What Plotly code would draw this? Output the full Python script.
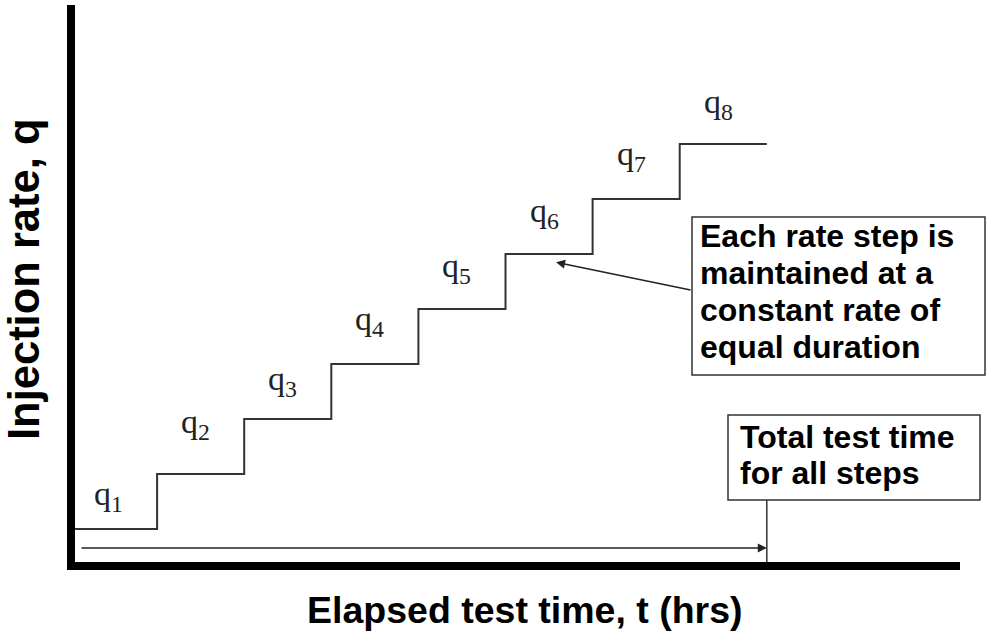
import plotly.graph_objects as go

# ------------------------------------------- Data -------------------------------------------

# step boundaries (equal durations) and the rate held during each step
step_times = [0, 1, 2, 3, 4, 5, 6, 7, 8]
step_rates = [1, 2, 3, 4, 5, 6, 7, 8, 8]
step_labels = ["q<sub>1</sub>", "q<sub>2</sub>", "q<sub>3</sub>", "q<sub>4</sub>",
               "q<sub>5</sub>", "q<sub>6</sub>", "q<sub>7</sub>", "q<sub>8</sub>"]

total_time = 8
arrow_level = 0.655
callout_point = (5.58, 5.85)

callout_lines = ["Each rate step is", "maintained at a", "constant rate of", "equal duration"]
total_lines = ["Total test time", "for all steps"]

x_title = "Elapsed test time, t (hrs)"
y_title = "Injection rate, q"

# ------------------------------------------- Layout helpers -------------------------------------------

# plot area edges in pixels (axis lines are drawn just outside these)
PLOT_LEFT, PLOT_RIGHT, PLOT_TOP, PLOT_BOTTOM = 75, 960, 5, 562

# how far (px) each q label sits above its step, hand placed in the original
label_lift = [10, 27, 15, 20, 18, 18, 20, 17]


def px_x(px):
    """Converts a horizontal pixel position to paper coordinates"""
    return (px - PLOT_LEFT) / (PLOT_RIGHT - PLOT_LEFT)


def px_y(px):
    """Converts a vertical pixel position to paper coordinates"""
    return (PLOT_BOTTOM - px) / (PLOT_BOTTOM - PLOT_TOP)


bold_font = dict(family="Liberation Sans", size=32, color="black", weight="bold")

# ------------------------------------------- Figure -------------------------------------------

fig = go.Figure()

# stepped rate history
fig.add_trace(go.Scatter(x=step_times, y=step_rates, mode="lines", line_shape="hv",
                         line=dict(color="#333333", width=2), hoverinfo="skip", showlegend=False))

# q labels over each step
for i, label in enumerate(step_labels):
    fig.add_annotation(x=step_times[i] + 0.5, y=step_rates[i], text=label, showarrow=False,
                       xanchor="center", yanchor="bottom", xshift=-5, yshift=label_lift[i],
                       font=dict(family="Liberation Serif", size=34, color="#222222"))

# total time arrow along the bottom
fig.add_annotation(x=total_time, y=arrow_level, ax=0.115, ay=arrow_level, axref="x", ayref="y",
                   xref="x", yref="y", text="", showarrow=True, arrowhead=2, arrowsize=1.2,
                   arrowwidth=1.5, arrowcolor="#222222")

# callout arrow pointing at the step
fig.add_annotation(x=callout_point[0], y=callout_point[1], ax=136, ay=28, text="",
                   showarrow=True, arrowhead=2, arrowsize=1.2, arrowwidth=1.5, arrowcolor="#222222")

# callout boxes
fig.add_shape(type="rect", xref="paper", yref="paper", x0=px_x(692), x1=px_x(985),
              y0=px_y(375), y1=px_y(217), line=dict(color="#333333", width=1.5), fillcolor="white")
fig.add_shape(type="rect", xref="paper", yref="paper", x0=px_x(728), x1=px_x(980),
              y0=px_y(500), y1=px_y(415), line=dict(color="#333333", width=1.5), fillcolor="white")

# line from the total time box to the axis
fig.add_shape(type="line", xref="x", yref="paper", x0=total_time, x1=total_time, y0=0, y1=px_y(500),
              line=dict(color="#333333", width=1.5))

# box texts, one line each so the spacing matches
for i, line in enumerate(callout_lines):
    fig.add_annotation(xref="paper", yref="paper", x=px_x(698), y=px_y(236 + 37 * i), text=line,
                       showarrow=False, xanchor="left", yanchor="middle", font=bold_font)
for i, line in enumerate(total_lines):
    fig.add_annotation(xref="paper", yref="paper", x=px_x(738), y=px_y(437 + 36 * i), text=line,
                       showarrow=False, xanchor="left", yanchor="middle", font=bold_font)

# axis titles
fig.add_annotation(xref="paper", yref="paper", x=px_x(525), y=px_y(610), text=x_title, showarrow=False,
                   xanchor="center", yanchor="middle",
                   font=dict(family="Liberation Sans", size=37.5, color="black", weight="bold"))
fig.add_annotation(xref="paper", yref="paper", x=px_x(24), y=px_y(280), text=y_title, showarrow=False,
                   textangle=-90, xanchor="center", yanchor="middle",
                   font=dict(family="Liberation Sans", size=43.5, color="black", weight="bold"))

fig.update_xaxes(range=[0.0574, 10.218], showline=True, linewidth=8, linecolor="black",
                 showgrid=False, zeroline=False, showticklabels=False, ticks="")
fig.update_yaxes(range=[0.4, 10.527], showline=True, linewidth=8, linecolor="black",
                 showgrid=False, zeroline=False, showticklabels=False, ticks="")

fig.update_layout(width=989, height=636,
                  margin=dict(l=PLOT_LEFT, r=989 - PLOT_RIGHT, t=PLOT_TOP, b=636 - PLOT_BOTTOM),
                  plot_bgcolor="white", paper_bgcolor="white")

# drop the browser's default page margin so the figure sits at the window corner
fig.write_html("out.html", config={"displayModeBar": False},
               post_script="document.body.style.margin='0';document.body.style.overflow='hidden';")
